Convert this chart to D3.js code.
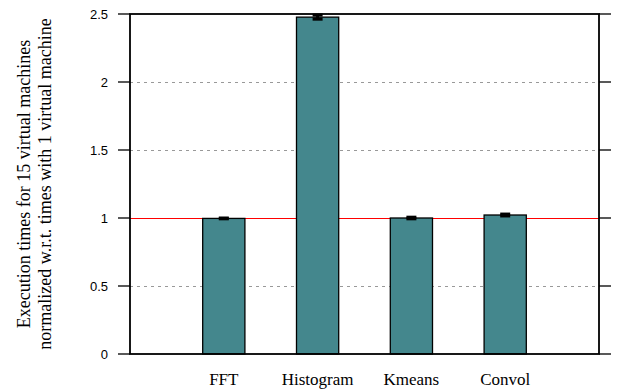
<!DOCTYPE html>
<html>
<head>
<meta charset="utf-8">
<script src="https://cdn.jsdelivr.net/npm/d3@7"></script>
<style>
  html, body { margin: 0; padding: 0; background: #fff; }
  svg { display: block; }
</style>
</head>
<body>
<svg id="chart" width="617" height="392"></svg>
<script>
// Benchmarks and normalized execution times (15 VMs vs 1 VM)
const categories = ["FFT", "Histogram", "Kmeans", "Convol"];
const values = [0.997, 2.477, 1.0, 1.022];
const errors = [0.003, 0.015, 0.006, 0.007];
const yTicks = [0, 0.5, 1, 1.5, 2, 2.5];
const yTickLabels = ["0", "0.5", "1", "1.5", "2", "2.5"];
const gridValues = [0.5, 1.5, 2];
const referenceValue = 1;
const yTitleLines = ["Execution times for 15 virtual machines",
                     "normalized w.r.t. times with 1 virtual machine"];

const svg = d3.select("#chart");
const plotLeft = 130, plotRight = 599, plotTop = 14, plotBottom = 354;

// Bars sit at integer slots 0..n-1 with one empty slot on each side
const x = d3.scaleLinear().domain([-1, categories.length]).range([plotLeft, plotRight]);
const y = d3.scaleLinear().domain([0, 2.5]).range([plotBottom, plotTop]);
const barWidth = 0.45;

// Dotted horizontal grid
svg.append("g").selectAll("line").data(gridValues).join("line")
  .attr("x1", plotLeft).attr("x2", plotRight)
  .attr("y1", d => y(d) + 0.5).attr("y2", d => y(d) + 0.5)
  .attr("stroke", "#999").attr("stroke-width", 1)
  .attr("stroke-dasharray", "3,4");

// Reference line at 1
svg.append("line")
  .attr("x1", plotLeft).attr("x2", plotRight)
  .attr("y1", y(referenceValue) + 0.5).attr("y2", y(referenceValue) + 0.5)
  .attr("stroke", "#f00").attr("stroke-width", 1.1);

// Bars
svg.append("g").selectAll("rect").data(values).join("rect")
  .attr("x", (d, i) => x(i - barWidth / 2))
  .attr("width", x(barWidth) - x(0))
  .attr("y", d => y(d))
  .attr("height", d => y(0) - y(d))
  .attr("fill", "#44878d")
  .attr("stroke", "#000").attr("stroke-width", 1.3);

// Error bars
const eb = svg.append("g").attr("stroke", "#000").attr("stroke-width", 3);
values.forEach((v, i) => {
  const cx = x(i), lo = y(v - errors[i]), hi = y(v + errors[i]);
  eb.append("line").attr("x1", cx).attr("x2", cx).attr("y1", lo).attr("y2", hi);
  eb.append("line").attr("x1", cx - 5).attr("x2", cx + 5).attr("y1", lo).attr("y2", lo);
  eb.append("line").attr("x1", cx - 5).attr("x2", cx + 5).attr("y1", hi).attr("y2", hi);
});

// Ticks on both sides (outward)
const tickLen = 12;
svg.append("g").selectAll("line").data(yTicks).join("line")
  .attr("x1", plotLeft - tickLen).attr("x2", plotLeft)
  .attr("y1", d => y(d)).attr("y2", d => y(d))
  .attr("stroke", "#222").attr("stroke-width", 1.5);
svg.append("g").selectAll("line").data(yTicks).join("line")
  .attr("x1", plotRight).attr("x2", plotRight + tickLen)
  .attr("y1", d => y(d)).attr("y2", d => y(d))
  .attr("stroke", "#222").attr("stroke-width", 1.5);

// Frame
svg.append("rect")
  .attr("x", plotLeft).attr("y", plotTop)
  .attr("width", plotRight - plotLeft).attr("height", plotBottom - plotTop)
  .attr("fill", "none").attr("stroke", "#000").attr("stroke-width", 1.8);

// Y tick labels
svg.append("g").selectAll("text").data(yTicks).join("text")
  .attr("x", plotLeft - 22).attr("y", d => y(d) + 4.5)
  .attr("text-anchor", "end")
  .attr("font-family", "Liberation Sans, Arial, sans-serif")
  .attr("font-size", 13)
  .attr("fill", "#000")
  .text((d, i) => yTickLabels[i]);

// Category labels
svg.append("g").selectAll("text").data(categories).join("text")
  .attr("x", (d, i) => x(i)).attr("y", 385)
  .attr("text-anchor", "middle")
  .attr("font-family", "Liberation Serif, Times New Roman, serif")
  .attr("font-size", 17)
  .attr("fill", "#000")
  .text(d => d);

// Y axis title (two lines)
const midY = (plotTop + plotBottom) / 2;
yTitleLines.forEach((t, i) => {
  svg.append("text")
    .attr("transform", `translate(${30 + i * 21},${midY}) rotate(-90)`)
    .attr("text-anchor", "middle")
    .attr("font-family", "Liberation Serif, Times New Roman, serif")
    .attr("font-size", 18)
    .attr("fill", "#000")
    .text(t);
});
</script>
</body>
</html>
